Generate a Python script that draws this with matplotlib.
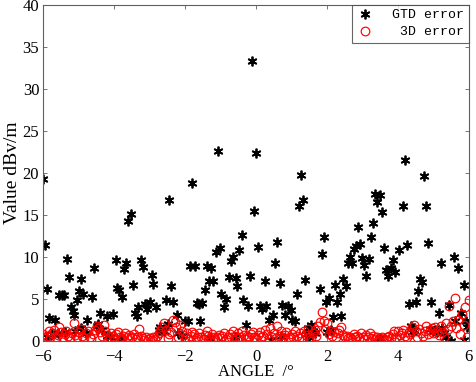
import numpy as np
import matplotlib
matplotlib.use('Agg')
import matplotlib.pyplot as plt

# GTD error points (angle in degrees, value in dBv/m)
gtd_angle = [
    -6.02, -5.95, -5.89, -5.83, -5.67, -5.55, -5.48, -5.42, -5.34, -5.27,
    -5.23, -5.17, -5.13, -5.04, -4.99, -4.94, -4.87, -4.76, -4.63, -4.56,
    -4.40, -4.20, -4.03, -3.96, -3.92, -3.86, -3.79, -3.73, -3.67, -3.61,
    -3.54, -3.48, -3.42, -3.37, -3.32, -3.26, -3.20, -3.14, -3.07, -3.00,
    -2.95, -2.90, -2.83, -2.67, -2.53, -2.46, -2.40, -2.34, -2.24, -2.01,
    -1.92, -1.87, -1.73, -1.80, -1.68, -1.62, -1.59, -1.52, -1.45, -1.40,
    -1.33, -1.28, -1.21, -1.14, -1.08, -1.03, -0.98, -0.91, -0.84, -0.76,
    -0.71, -0.65, -0.58, -0.53, -0.48, -0.41, -0.36, -0.29, -0.24, -0.18,
    -0.11, -0.05, 0.00, 0.06, 0.10, 0.16, 0.24, 0.29, 0.37, 0.41,
    0.48, 0.54, 0.59, 0.67, 0.72, 0.81, 0.90, 0.97, 1.02, 1.09,
    1.14, 1.20, 1.26, 1.32, 1.37, 1.46, 1.56, 1.65, 1.79, 1.86,
    1.92, 1.98, 2.05, 2.10, 2.17, 2.22, 2.29, 2.36, 2.40, 2.45,
    2.53, 2.59, 2.64, 2.71, 2.76, 2.83, 2.87, 2.94, 2.99, 3.04,
    3.11, 3.18, 3.23, 3.30, 3.35, 3.42, 3.48, 3.55, 3.61, 3.67,
    3.73, 3.79, 3.86, 3.92, 4.02, 4.14, 4.20, 4.25, 4.31, 4.37,
    4.44, 4.50, 4.56, 4.63, 4.68, 4.73, 4.80, 4.86, 4.92, 4.99,
    5.05, 5.15, 5.22, 5.31, 5.44, 5.50, 5.57, 5.62, 5.70, 5.78,
    5.85, 5.92, 5.96, 5.86,
    # low values mostly hidden behind the red circles
    -5.90, -5.75, -5.60, -5.40, -5.10, -4.95, -4.80, -4.50, -4.45, -4.35,
    -4.20, -4.10, -3.80, -2.75, -2.70, -2.60, -2.50, -2.20, -2.10, -1.30,
    -0.60, 0.70, 1.40, 1.50, 1.60, 2.00, 3.50, 4.40, 4.90, 5.10,
    5.25, 5.35,
]
gtd_error = [
    19.2, 11.4, 6.2, 2.7, 2.5, 5.4, 5.5, 5.4, 9.7, 7.6,
    4.0, 3.5, 3.1, 4.8, 5.9, 7.4, 5.6, 2.5, 5.2, 8.7,
    3.3, 2.9, 3.2, 9.6, 6.3, 6.0, 5.2, 8.5, 9.3, 14.2,
    15.1, 6.6, 3.3, 2.9, 4.0, 9.6, 8.8, 4.4, 3.8, 4.6,
    7.8, 6.8, 4.0, 1.3, 4.8, 16.8, 6.5, 4.6, 3.1, 2.3,
    2.4, 8.9, 8.9, 18.8, 4.5, 4.4, 2.4, 4.5, 6.0, 8.9,
    7.1, 8.6, 7.1, 10.6, 22.6, 11.0, 5.6, 4.0, 5.0, 7.6,
    9.5, 10.0, 7.5, 6.5, 10.8, 12.6, 4.8, 1.9, 4.1, 7.7,
    33.3, 15.4, 22.3, 11.2, 4.1, 3.8, 7.1, 4.1, 2.5, 0.1,
    3.1, 9.2, 11.8, 6.9, 4.2, 3.1, 4.1, 3.7, 2.5, 2.3,
    5.6, 16.0, 19.7, 16.7, 7.2, 1.5, 1.9, 0.9, 6.2, 10.3,
    12.3, 4.6, 5.1, 1.3, 2.8, 6.6, 4.6, 5.6, 2.9, 7.3,
    6.5, 9.2, 10.0, 9.2, 10.9, 11.3, 13.5, 11.5, 9.8, 9.0,
    7.7, 9.7, 12.4, 14.0, 17.5, 16.5, 17.4, 15.3, 11.0, 8.4,
    7.7, 8.7, 9.6, 8.2, 10.8, 16.0, 21.5, 11.4, 4.4, 1.7,
    1.3, 4.6, 5.9, 7.3, 7.0, 19.6, 16.0, 11.6, 4.6, 1.1,
    1.3, 3.3, 9.3, 0.9, 4.2, 0.0, 10.0, 2.3, 8.6, 3.3,
    6.6, 2.4, 1.6, 0.1,
    0.5, 0.8, 0.9, 1.0, 1.2, 1.5, 0.9, 1.7, 2.0, 1.3,
    0.6, 0.4, 0.3, 1.3, 1.6, 1.1, 2.0, 0.9, 0.6, 0.3,
    0.4, 0.6, 0.8, 0.5, 1.2, 1.0, 0.3, 1.0, 1.4, 1.0,
    1.5, 0.5,
]

# 3D error, one sample every 0.05 degree from -6 to 6
angle_3d = np.round(np.arange(-6.0, 6.0001, 0.05), 2)
error_3d = [
    0.8, 0.3, 0.6, 1.1, 0.4, 0.9, 1.3, 0.5, 0.7, 1.6, 1.0, 0.4, 0.8, 1.2, 0.6, 0.3, 0.9, 2.1, 0.7, 0.5,
    1.0, 1.4, 0.6, 0.3, 0.9, 1.2, 0.5, 0.2, 0.8, 1.3, 1.8, 1.5, 1.0, 0.6, 1.9, 1.2, 0.7, 0.4, 0.9, 0.6,
    0.3, 0.8, 1.0, 0.5, 0.2, 0.6, 0.9, 0.4, 0.7, 0.3, 0.5, 0.8, 0.2, 0.4, 1.4, 0.6, 0.3, 0.1, 0.4, 0.2,
    0.3, 0.1, 0.5, 0.2, 0.6, 0.9, 1.2, 1.6, 2.1, 1.3, 0.3, 0.8, 1.0, 2.5, 2.2, 1.6, 0.5, 1.9, 1.2, 0.7,
    0.4, 0.9, 0.2, 0.6, 1.0, 0.8, 0.3, 0.5, 0.9, 0.4, 0.2, 0.7, 1.1, 0.6, 0.3, 0.8, 0.5, 0.2, 0.4, 0.7,
    0.3, 0.6, 0.9, 0.2, 0.5, 0.8, 0.4, 1.2, 0.6, 0.3, 0.9, 0.5, 1.1, 0.7, 0.2, 0.6, 0.4, 0.8, 1.0, 0.5,
    0.3, 0.7, 1.0, 0.4, 0.6, 1.3, 0.8, 0.2, 1.5, 0.5, 0.9, 0.3, 1.8, 0.6, 1.2, 0.4, 0.7, 1.0, 0.3, 0.5,
    0.8, 0.4, 1.1, 0.6, 0.3, 0.9, 0.5, 1.2, 0.7, 1.4, 0.4, 0.2, 0.9, 1.3, 0.6, 1.7, 2.2, 3.4, 2.3, 1.4,
    2.1, 0.8, 1.2, 0.6, 1.0, 0.5, 0.9, 1.3, 1.6, 0.7, 0.4, 0.6, 0.3, 0.5, 0.2, 0.8, 0.4, 0.6, 0.3, 0.9,
    0.4, 0.2, 0.7, 0.5, 0.9, 0.3, 0.6, 0.2, 0.4, 0.1, 0.3, 0.5, 0.2, 0.1, 0.4, 0.6, 0.3, 0.8, 1.1, 0.5,
    1.2, 0.7, 0.9, 1.3, 0.6, 0.4, 1.0, 0.8, 1.6, 1.9, 1.1, 0.5, 1.4, 0.9, 0.6, 1.2, 1.7, 0.8, 1.3, 1.5,
    0.9, 1.6, 1.2, 0.7, 1.8, 1.0, 0.4, 2.1, 1.4, 4.1, 1.7, 2.3, 5.1, 1.5, 2.5, 0.8, 3.2, 1.9, 4.0, 0.5,
    4.9,
]

x_ticks = [-6, -4, -2, 0, 2, 4, 6]
y_ticks = [0, 5, 10, 15, 20, 25, 30, 35, 40]

plt.rcParams['font.family'] = ['Liberation Serif', 'DejaVu Serif']

fig = plt.figure(figsize=(4.77, 3.82), dpi=100)
ax = fig.add_axes([0.091, 0.108, 0.892, 0.880])

asterisk = (6, 2, 0)
ax.plot(gtd_angle, gtd_error, linestyle='none', marker=asterisk, markersize=7,
        markeredgecolor='black', markerfacecolor='black', markeredgewidth=1.3,
        label='GTD error')
ax.plot(angle_3d, error_3d, linestyle='none', marker='o', markersize=6.2,
        markeredgecolor='red', markerfacecolor='none', markeredgewidth=0.85,
        label=' 3D error')

ax.set_xlim(-6, 6)
ax.set_ylim(0, 40)
ax.set_xticks(x_ticks)
ax.set_yticks(y_ticks)
ax.tick_params(direction='in', top=True, right=True, length=3, width=0.6,
               labelsize=12, colors='#606060', labelcolor='black')
ax.tick_params(axis='x', pad=6)
ax.tick_params(axis='y', pad=3)
for s in ax.spines.values():
    s.set_color('#606060')
    s.set_linewidth(0.8)

ax.set_xlabel('ANGLE  /°', fontsize=12, labelpad=-1)
ax.set_ylabel('Value dBv/m', fontsize=14, labelpad=1)

leg = ax.legend(loc='upper right', prop={'family': 'Liberation Mono', 'size': 9.5},
                frameon=True, fancybox=False, borderpad=0.35, handletextpad=1.5,
                labelspacing=0.35, borderaxespad=0, handlelength=1.2)
leg.get_frame().set_edgecolor('#404040')
leg.get_frame().set_linewidth(0.8)

fig.savefig('out.png', dpi=100)
